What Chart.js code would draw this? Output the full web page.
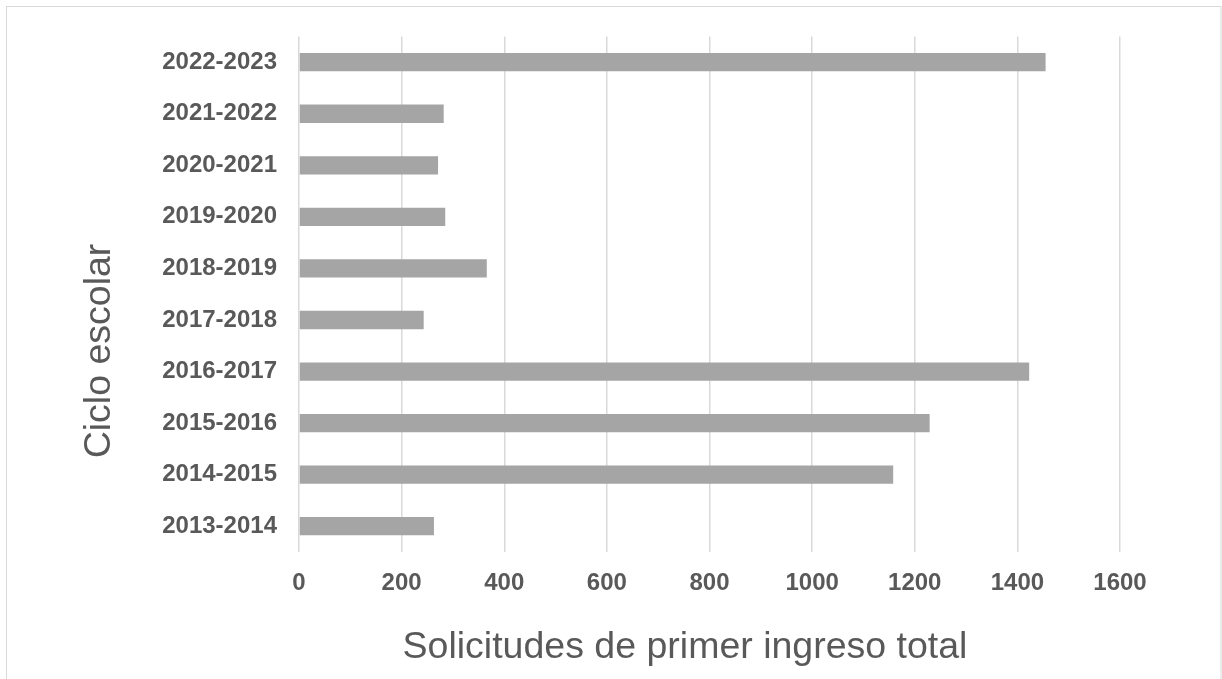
<!DOCTYPE html>
<html>
<head>
<meta charset="utf-8">
<script src="https://cdn.jsdelivr.net/npm/chart.js@4.4.0/dist/chart.umd.min.js"></script>
<style>
  html, body { margin: 0; padding: 0; background: #fff; }
  #wrap { width: 1222px; height: 679px; }
</style>
</head>
<body>
<div id="wrap"><canvas id="chartCiclos" width="1222" height="679"></canvas></div>
<script>
// datos
const ciclos = [
  "2013-2014", "2014-2015", "2015-2016", "2016-2017", "2017-2018",
  "2018-2019", "2019-2020", "2020-2021", "2021-2022", "2022-2023"
];
const solicitudes = [263, 1158, 1229, 1423, 243, 366, 285, 271, 282, 1455];

const X_MIN = 0;
const X_MAX = 1600;
const X_STEP = 200;

const TITLE_X = "Solicitudes de primer ingreso total";
const TITLE_Y = "Ciclo escolar";

const TEXT_COLOR = "#595959";
const GRID_COLOR = "#d9d9d9";
const BAR_COLOR = "#a5a5a5";
const FONT = "Liberation Sans";

// fondo blanco y marco gris del area del grafico
const chartFrame = {
  id: "chartFrame",
  beforeDraw(chart) {
    const ctx = chart.ctx;
    ctx.save();
    ctx.fillStyle = "#fff";
    ctx.fillRect(0, 0, chart.width, chart.height);
    ctx.strokeStyle = GRID_COLOR;
    ctx.lineWidth = 1;
    ctx.strokeRect(6.5, 6.5, chart.width - 7.5, chart.height + 20);
    ctx.restore();
  },
};

// titulos de los ejes (en el original no estan centrados sobre el area)
const axisTitles = {
  id: "axisTitles",
  afterDraw(chart) {
    const ctx = chart.ctx;
    ctx.save();
    ctx.fillStyle = TEXT_COLOR;
    ctx.font = `37.5px "${FONT}"`;
    ctx.textAlign = "center";
    ctx.textBaseline = "middle";
    ctx.fillText(TITLE_X, 685, 648);
    ctx.translate(100, 351);
    ctx.rotate(-Math.PI / 2);
    ctx.fillText(TITLE_Y, 0, 0);
    ctx.restore();
  },
};

function createBarChart(canvasId) {
  const canvas = document.getElementById(canvasId);
  if (!canvas) return null;

  return new Chart(canvas, {
    type: "bar",
    data: {
      labels: ciclos,
      datasets: [
        {
          data: solicitudes,
          backgroundColor: BAR_COLOR,
          borderWidth: 0,
          barPercentage: 0.355,
          categoryPercentage: 1,
        },
      ],
    },
    options: {
      indexAxis: "y",
      responsive: false,
      animation: false,
      layout: { padding: { top: 35, right: 102, bottom: 0, left: 0 } },
      plugins: {
        legend: { display: false },
        tooltip: { enabled: false },
      },
      scales: {
        x: {
          min: X_MIN,
          max: X_MAX,
          border: { display: false },
          grid: { color: GRID_COLOR, lineWidth: 1.5, drawTicks: false },
          ticks: {
            stepSize: X_STEP,
            padding: 17,
            color: TEXT_COLOR,
            font: { family: FONT, size: 24, weight: "bold" },
            callback: (v) => String(v),
          },
          afterFit: (scale) => { scale.height = 127; },
        },
        y: {
          reverse: true,
          border: { display: false },
          grid: { display: false, drawTicks: false },
          ticks: {
            padding: 22,
            color: TEXT_COLOR,
            font: { family: FONT, size: 24, weight: "bold" },
          },
          afterFit: (scale) => { scale.width = 299; },
        },
      },
    },
    plugins: [chartFrame, axisTitles],
  });
}

document.addEventListener("DOMContentLoaded", () => {
  createBarChart("chartCiclos");
});
</script>
</body>
</html>
